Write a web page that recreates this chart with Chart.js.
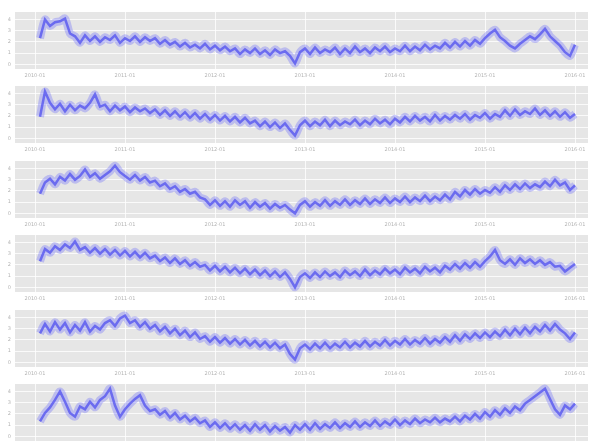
<!DOCTYPE html>
<html>
<head>
<meta charset="utf-8">
<script src="https://cdn.jsdelivr.net/npm/chart.js@4/dist/chart.umd.min.js"></script>
<style>
  html, body { margin: 0; padding: 0; background: #ffffff; }
  body { width: 591px; height: 443px; position: relative; overflow: hidden; }
  .panel { position: absolute; left: 0; width: 591px; height: 78px; }
</style>
</head>
<body>
<script>
// ---------- DATA ----------
const X_START = 5;   // index of first sample
const xTickValues = [4, 22, 40, 58, 76, 94, 112];
const xTickLabels = ['2010-01', '2011-01', '2012-01', '2013-01', '2014-01', '2015-01', '2016-01'];
const yTickValues = [5, 17, 29, 41, 53];
const yTickLabels = ['0', '1', '2', '3', '4'];

const series1 = [33, 53, 46, 50, 51, 54, 38, 35,
  28, 36, 30, 35, 29, 34, 31, 36, 28, 33, 30, 35, 29, 34, 30,
  33, 27, 31, 26, 29, 24, 28, 23, 26, 22,
  27, 21, 25, 20, 24, 19,
  22, 16, 21, 17, 22, 16, 20, 15, 21, 17, 19, 14,
  6, 18,
  22, 16, 23, 17, 21, 18, 23, 16, 22, 17, 24, 18, 22, 17, 23, 19, 24, 18, 22, 19,
  25, 19, 24, 20, 26, 21, 25, 22,
  28, 23, 29, 24, 30, 25, 31, 27,
  33, 38, 42, 34, 30, 25, 22, 27, 31, 35, 32, 37, 43, 35, 30, 25, 18, 14, 26];

const series2 = [28, 55, 43,
  36, 42, 34, 41, 35, 40, 37, 43,
  52, 39,
  41, 34, 40, 35, 39, 33, 38, 34, 37, 32,
  36, 30, 35, 29, 34, 28, 33, 27, 32, 26, 31, 25, 30, 24, 29, 23, 28, 22, 27, 21,
  24, 18, 23, 17, 22, 16, 21, 14,
  8, 19,
  24, 18, 23, 19, 25, 18, 24, 19, 23, 20, 25, 19, 24, 20, 26, 21, 25, 20, 26, 22,
  28, 23, 29, 24, 28, 23, 30, 24, 29, 25, 30, 26, 31, 25, 30, 27, 32, 26, 31, 28,
  35, 29, 36, 30, 34, 31, 37, 30, 35, 29, 34, 28, 33, 27, 31];

const series3 = [26, 38, 42, 36, 44, 40, 47, 41, 45, 52, 44, 48,
  42, 46, 50, 56, 49, 45, 41, 46, 40, 44, 38,
  40, 34, 37, 31, 34, 28, 31, 26, 28, 22,
  20, 14, 19, 13, 18, 12, 19, 14, 18, 11, 17, 12, 16, 10, 15, 11, 14, 9,
  5, 14,
  18, 12, 17, 13, 19, 13, 18, 14, 20, 14, 19, 15, 21, 15, 20, 16, 22, 16, 21, 17, 23, 17, 22, 18, 24, 18, 23, 19, 25, 20,
  28, 23, 30, 25, 31, 26, 30, 27, 33, 28,
  35, 30, 36, 31, 37, 32, 36, 33, 39, 34, 41, 35, 38, 30, 35];

const series4 = [33, 46, 42, 49, 45, 51, 47, 54,
  45, 48, 42, 47, 41, 46, 40, 45, 39, 44, 38, 43, 37, 42, 36,
  39, 33, 37, 31, 36, 30, 34, 28, 32, 27,
  29, 23, 28, 22, 27, 21, 26, 20, 25, 19, 24, 18, 23, 17, 22, 16, 21, 14,
  5, 16,
  20, 15, 21, 16, 22, 17, 21, 16, 23, 18, 22, 17, 24, 18, 23, 19, 25, 20, 24, 19, 26, 21, 25, 20, 27, 22, 26, 21, 28, 24,
  30, 25, 31, 26, 32, 27, 33, 38, 45,
  34, 30, 35, 29, 36, 31, 35, 30, 34, 29, 32, 27, 28, 22, 26, 30];

const series5 = [36, 46, 38, 48, 40, 47, 37, 45, 39, 48, 38, 44, 40,
  47, 50, 44, 52, 55, 47, 50, 43, 48, 41,
  45, 38, 43, 36, 41, 34, 39, 32, 37, 30,
  33, 27, 32, 26, 31, 25, 30, 24, 29, 23, 28, 22, 27, 21, 26, 20, 24,
  14, 8, 20,
  24, 19, 25, 20, 26, 20, 25, 21, 27, 21, 26, 22, 28, 22, 27, 23, 29, 23, 28, 24, 30, 24, 29, 25, 31, 25, 30, 26, 32, 27,
  34, 28, 35, 30, 36, 31, 37, 32, 38, 33, 40, 34, 41, 35, 42, 36, 43, 38, 45, 39, 46, 40,
  36, 30, 37];

const series6 = [21, 30, 36, 44, 53,
  42, 30, 26, 37, 34,
  42, 36, 44, 48, 56,
  38, 26, 34,
  40, 45, 49, 38, 32,
  34, 28, 32, 25, 30, 23, 27, 21, 25, 19,
  22, 15, 20, 14, 19, 13, 18, 12, 17, 11, 18, 12, 17, 10, 16, 11, 15, 9, 17, 12,
  18, 12, 19, 13, 18, 14, 20, 14, 19, 15, 21, 15, 20, 16, 22, 16, 21, 17, 23, 17, 22, 18, 24, 19, 23, 20, 25, 20, 24, 21,
  26, 21, 27, 23, 29, 24, 31, 26, 33, 28, 35, 30, 37, 33,
  40, 44, 48, 52, 56, 45, 34, 28, 38, 34, 40];

const allSeries = [series1, series2, series3, series4, series5, series6];

// ---------- LAYOUT ----------
const panelTops = [5, 79, 154, 228, 303, 377];

const bgPlugin = {
  id: 'bgPlugin',
  beforeDraw(chart) {
    const a = chart.chartArea;
    const ctx = chart.ctx;
    ctx.save();
    ctx.fillStyle = '#e6e6e6';
    ctx.fillRect(a.left, a.top, a.right - a.left, a.bottom - a.top);
    ctx.restore();
  }
};

allSeries.forEach((vals, i) => {
  const div = document.createElement('div');
  div.className = 'panel';
  div.style.top = panelTops[i] + 'px';
  const c = document.createElement('canvas');
  c.width = 591; c.height = 78;
  c.style.width = '591px'; c.style.height = '78px';
  div.appendChild(c);
  document.body.appendChild(div);

  const pts = vals.map((v, k) => ({ x: X_START + k, y: v }));
  new Chart(c, {
    type: 'line',
    data: {
      datasets: [{
        data: pts,
        borderColor: 'rgba(110,110,250,0.35)',
        borderWidth: 8,
        pointRadius: 0,
        tension: 0.3,
        fill: false
      }, {
        data: pts,
        borderColor: 'rgba(75,75,235,0.8)',
        borderWidth: 2.5,
        pointRadius: 0,
        tension: 0,
        fill: false
      }]
    },
    options: {
      responsive: false,
      animation: false,
      events: [],
      layout: { padding: { top: 3, right: 3, left: 0, bottom: 0 } },
      plugins: { legend: { display: false }, tooltip: { enabled: false } },
      scales: {
        x: {
          type: 'linear',
          min: 0, max: 114.6,
          afterBuildTicks(s) { s.ticks = xTickValues.map(v => ({ value: v })); },
          afterFit(s) { s.height = 14; },
          grid: { color: 'rgba(255,255,255,0.8)', lineWidth: 1, drawTicks: false },
          border: { display: false },
          ticks: {
            autoSkip: false, maxRotation: 0, padding: 4,
            color: '#b4b4b4', font: { family: 'DejaVu Sans', size: 5 },
            callback: (v, idx) => xTickLabels[idx]
          }
        },
        y: {
          min: 0, max: 61,
          afterBuildTicks(s) { s.ticks = yTickValues.map(v => ({ value: v })); },
          afterFit(s) { s.width = 15; },
          grid: { color: 'rgba(255,255,255,0.8)', lineWidth: 1, drawTicks: false },
          border: { display: false },
          ticks: {
            autoSkip: false, padding: 4,
            color: '#b4b4b4', font: { family: 'DejaVu Sans', size: 5 },
            callback: (v, idx) => yTickLabels[idx]
          }
        }
      }
    },
    plugins: [bgPlugin]
  });
});
</script>
</body>
</html>
